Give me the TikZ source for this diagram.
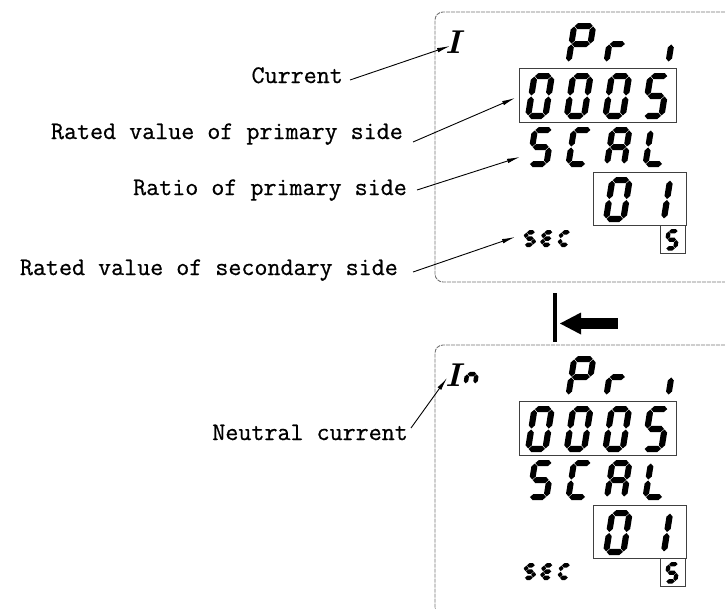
\documentclass[tikz,border=0pt]{standalone}
\usepackage{fontspec}
\newfontfamily\labfont[FakeBold=0.7]{Latin Modern Mono}
\usetikzlibrary{arrows.meta}
\tikzset{
  lab/.style={font=\labfont\fontsize{25.3}{25}\selectfont,inner sep=0pt,anchor=base east},
  callout/.style={line width=0.9pt,-{Latex[length=13pt,width=4.5pt]}},
  lcdframe/.style={draw=black!55,line width=0.9pt,dash pattern=on 4pt off 1pt,rounded corners=8pt},
  valbox/.style={draw=black!75,line width=0.8pt},
  bigI/.style={font=\fontsize{33}{33}\selectfont\bfseries\itshape,inner sep=0pt}
}
% seven-segment glyphs
\newcommand{\hsg}[3]{\fill ({#1},{#3}) -- ({#1+\sh},{#3+\sh}) -- ({#2-\sh},{#3+\sh}) -- ({#2},{#3}) -- ({#2-\sh},{#3-\sh}) -- ({#1+\sh},{#3-\sh}) -- cycle;}
\newcommand{\vsg}[3]{\fill ({#3},{#1}) -- ({#3+\sh},{#1+\sh}) -- ({#3+\sh},{#2-\sh}) -- ({#3},{#2}) -- ({#3-\sh},{#2-\sh}) -- ({#3-\sh},{#1+\sh}) -- cycle;}
\newcommand{\ssega}{\hsg{\sh+\sg}{\sW-\sh-\sg}{\sH-\sh}}
\newcommand{\ssegd}{\hsg{\sh+\sg}{\sW-\sh-\sg}{\sh}}
\newcommand{\ssegg}{\hsg{\sh+\sg}{\sW-\sh-\sg}{\sH/2}}
\newcommand{\ssegf}{\vsg{\sH/2+\sg}{\sH-\sh-\sg}{\sh}}
\newcommand{\ssege}{\vsg{\sh+\sg}{\sH/2-\sg}{\sh}}
\newcommand{\ssegb}{\vsg{\sH/2+\sg}{\sH-\sh-\sg}{\sW-\sh}}
\newcommand{\ssegc}{\vsg{\sh+\sg}{\sH/2-\sg}{\sW-\sh}}
% #1 x, #2 y bottom, #3 width, #4 height, #5 thickness, #6 segments
\newcommand{\sevseg}[6]{%
  \begin{scope}[shift={(#1,#2)},x=1pt,y=1pt,xslant=0.16]
    \pgfmathsetmacro\sW{#3}\pgfmathsetmacro\sH{#4}\pgfmathsetmacro\sh{#5/2}%
    \pgfmathsetmacro\sg{#5*0.08}%
    \foreach \q in {#6}{\csname sseg\q\endcsname}
  \end{scope}}
% one LCD panel
\newcommand{\lcdpanel}[1]{%
  \draw[lcdframe] (730,12) -- (435,12) -- (435,282) -- (730,282);
  % Pri
  \sevseg{565}{65}{25}{42}{6}{a,b,f,g,e}
  \sevseg{603}{65}{22}{42}{6}{e,g}
  \sevseg{665}{65}{20}{42}{6}{e}
  % 0005
  \draw[valbox] (519,68) rectangle (676,122);
  \sevseg{524.5}{119}{23.5}{46}{6.2}{a,b,c,d,e,f}
  \sevseg{563.2}{119}{23.5}{46}{6.2}{a,b,c,d,e,f}
  \sevseg{601.8}{119}{23.5}{46}{6.2}{a,b,c,d,e,f}
  \sevseg{640.5}{119}{23.5}{46}{6.2}{a,f,g,c,d}
  % SCAL
  \sevseg{526}{167}{23}{40}{6}{a,f,g,c,d}
  \sevseg{565}{167}{23}{40}{6}{a,f,e,d}
  \sevseg{603.5}{167}{23}{40}{6}{a,b,c,e,f,g}
  \sevseg{642}{167}{23}{40}{6}{f,e,d}
  % 01
  \draw[valbox] (593,172) rectangle (686,225);
  \sevseg{602.5}{222}{23.5}{45}{6.2}{a,b,c,d,e,f}
  \sevseg{643}{222}{23.5}{45}{6.2}{b,c}
  % 5
  \draw[valbox] (660,225) rectangle (685,253);
  \sevseg{663.5}{250.5}{13.5}{21.5}{4.3}{a,f,g,c,d}
  % SEC
  \sevseg{522}{247}{13}{17}{4.5}{a,f,g,c,d}
  \sevseg{539.5}{247}{13}{17}{4.5}{a,f,g,e,d}
  \sevseg{557}{247}{13}{17}{4.5}{a,f,e,d}
  % I
  \node[bigI] (#1I) at (453,42.5) {I};
}
\begin{document}
\begin{tikzpicture}[x=1pt,y=-1pt]
\useasboundingbox (0,0) rectangle (725,608);
\clip (0,0) rectangle (725,608);
% upper panel
\lcdpanel{u}
% lower panel
\begin{scope}[yshift=-333pt]
  \lcdpanel{l}
  \sevseg{463}{53}{14}{24}{4.5}{g,e,c}
\end{scope}
% labels
\node[lab] (cur) at (343,83) {Current};
\node[lab] (rpri) at (403,139) {Rated value of primary side};
\node[lab] (ratio) at (407,195) {Ratio of primary side};
\node[lab] (rsec) at (398,275) {Rated value of secondary side};
\node[lab] (neu) at (408,440) {Neutral current};
% callout ends
\coordinate (c1s) at (350,80);   \coordinate (c1t) at (450,46);
\coordinate (c2s) at (413,142);  \coordinate (c2t) at (515,98);
\coordinate (c3s) at (417,190);  \coordinate (c3t) at (520,157);
\coordinate (c4s) at (413,272);  \coordinate (c4t) at (515,237);
\coordinate (c5s) at (411,428);  \coordinate (c5t) at (447,378);
\draw[callout] (c1s) -- (c1t);
\draw[callout] (c2s) -- (c2t);
\draw[callout] (c3s) -- (c3t);
\draw[callout] (c4s) -- (c4t);
\draw[callout] (c5s) -- (c5t);
% enter key symbol
\fill (553,293) rectangle (557,342);
\fill (576,318) rectangle (618,329);
\fill (560,323.5) -- (581,312.5) -- (581,334.5) -- cycle;
\end{tikzpicture}
\end{document}
